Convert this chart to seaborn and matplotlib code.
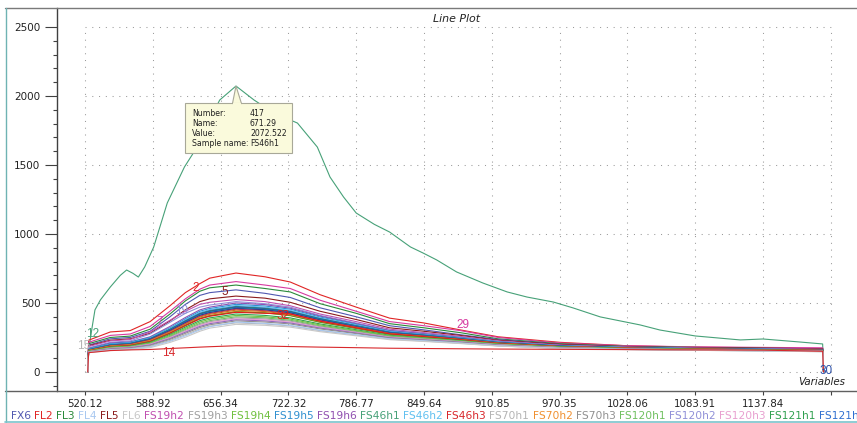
import matplotlib
matplotlib.use("Agg")
import numpy as np
import pandas as pd
import matplotlib.pyplot as plt
import seaborn as sns
from matplotlib import transforms
from matplotlib.patches import Polygon, Rectangle
from matplotlib.lines import Line2D

# ---------------- data ----------------
sample_names = ["FX6", "FL2", "FL3", "FL4", "FL5", "FL6", "FS19h2", "FS19h3", "FS19h4",
                "FS19h5", "FS19h6", "FS46h1", "FS46h2", "FS46h3", "FS70h1", "FS70h2",
                "FS70h3", "FS120h1", "FS120h2", "FS120h3", "FS121h1", "FS121h2",
                "FS121h3", "FS140h1", "FS140h2", "FS140h3", "FS168h1", "FS168h2",
                "FS168h3", "FS190h1", "FS190h2", "FS190h3"]
sample_colors = ["#5058b0", "#e02525", "#2a8a3a", "#a8c8f0", "#8b1c1c", "#c8c8c8",
                 "#c050b0", "#a0a0a0", "#70c040", "#3090d0", "#9050b0", "#47a178",
                 "#60c0f0", "#d8282c", "#b4b4b4", "#f09030", "#909090", "#70c060",
                 "#9090d8", "#e8a0d0", "#30a050", "#3070d0", "#1f3f8f", "#b03060",
                 "#17a2b8", "#9467bd", "#6b8e23", "#d2691e", "#d63aa0", "#2b4fa8",
                 "#2e8b57", "#e31a1c"]

tick_positions = [250, 325, 400, 475, 550, 625, 700, 775, 850, 925, 1000, 1075]
tick_labels = ["520.12", "588.92", "656.34", "722.32", "786.77", "849.64", "910.85",
               "970.35", "1028.06", "1083.91", "1137.84", ""]
y_major = [0, 500, 1000, 1500, 2000, 2500]

# variable numbers sampled for the bundle of spectra
bundle_n = [253, 254, 278, 300, 322, 344, 361, 377, 388, 417, 449, 477, 510, 550,
            587, 625, 665, 707, 775, 850, 925, 1000, 1066, 1067]
bundle_values = {
    2:  [0, 230, 290, 300, 365, 480, 575, 640, 680, 717, 690, 652, 560, 470, 390, 355, 305, 255, 215, 190, 180, 175, 170, 0],
    29: [0, 215, 265, 275, 330, 440, 530, 600, 630, 655, 630, 605, 520, 440, 365, 335, 300, 250, 210, 190, 182, 178, 175, 0],
    3:  [0, 205, 250, 260, 310, 420, 515, 585, 610, 630, 605, 580, 495, 425, 350, 320, 285, 240, 205, 185, 178, 172, 168, 0],
    1:  [0, 195, 240, 250, 295, 400, 490, 555, 575, 595, 570, 540, 465, 400, 335, 305, 270, 235, 200, 182, 175, 170, 165, 0],
    5:  [0, 190, 230, 240, 280, 370, 450, 510, 530, 550, 535, 505, 440, 380, 320, 295, 265, 230, 200, 182, 175, 172, 168, 0],
    7:  [0, 185, 225, 235, 290, 375, 440, 490, 505, 525, 510, 480, 420, 365, 310, 285, 258, 225, 195, 180, 173, 168, 165, 0],
    19: [0, 175, 215, 225, 275, 360, 425, 470, 485, 510, 495, 470, 410, 355, 302, 280, 252, 222, 193, 178, 170, 166, 162, 0],
    11: [0, 170, 210, 218, 255, 330, 395, 450, 470, 500, 488, 462, 405, 350, 300, 277, 250, 220, 192, 178, 171, 166, 162, 0],
    10: [0, 168, 205, 215, 250, 320, 385, 440, 460, 490, 478, 455, 398, 345, 296, 273, 248, 218, 190, 177, 170, 165, 160, 0],
    13: [0, 165, 200, 210, 245, 315, 378, 432, 452, 482, 470, 447, 392, 340, 292, 270, 245, 216, 189, 176, 169, 164, 160, 0],
    22: [0, 163, 198, 208, 242, 310, 372, 425, 445, 475, 463, 440, 387, 336, 289, 268, 243, 214, 188, 175, 168, 164, 160, 0],
    31: [0, 162, 196, 206, 240, 308, 368, 422, 442, 472, 460, 438, 385, 334, 287, 266, 242, 213, 187, 175, 168, 163, 159, 0],
    30: [0, 160, 195, 205, 238, 305, 365, 418, 438, 468, 456, 435, 382, 332, 286, 265, 241, 213, 187, 174, 168, 163, 158, 0],
    25: [0, 160, 194, 203, 236, 302, 360, 412, 432, 462, 452, 430, 379, 330, 284, 263, 240, 212, 186, 174, 167, 162, 158, 0],
    23: [0, 158, 192, 202, 235, 300, 358, 410, 430, 460, 450, 428, 377, 328, 283, 262, 239, 211, 186, 174, 167, 162, 158, 0],
    24: [0, 157, 190, 200, 232, 295, 352, 404, 424, 455, 444, 422, 372, 325, 280, 260, 237, 210, 185, 173, 167, 162, 157, 0],
    28: [0, 156, 188, 198, 228, 290, 346, 398, 418, 448, 438, 418, 368, 322, 278, 258, 236, 209, 184, 172, 166, 161, 156, 0],
    16: [0, 155, 186, 195, 225, 285, 340, 390, 410, 440, 430, 410, 362, 317, 274, 255, 233, 207, 183, 172, 166, 161, 156, 0],
    27: [0, 153, 184, 193, 222, 282, 338, 388, 407, 436, 428, 408, 360, 315, 273, 254, 232, 206, 182, 171, 165, 160, 155, 0],
    32: [0, 152, 183, 192, 220, 280, 335, 384, 404, 432, 425, 420, 368, 320, 276, 256, 234, 207, 183, 171, 165, 160, 155, 0],
    21: [0, 150, 180, 188, 215, 272, 325, 372, 392, 420, 410, 392, 348, 306, 266, 248, 228, 203, 181, 170, 164, 159, 154, 0],
    9:  [0, 150, 178, 185, 210, 265, 316, 362, 382, 410, 400, 383, 341, 300, 262, 245, 225, 201, 180, 169, 163, 158, 153, 0],
    18: [0, 148, 175, 182, 205, 258, 308, 352, 372, 400, 392, 375, 334, 295, 258, 241, 222, 199, 178, 168, 162, 157, 152, 0],
    8:  [0, 147, 172, 180, 202, 252, 300, 344, 364, 392, 384, 368, 328, 290, 254, 238, 220, 197, 177, 167, 161, 156, 151, 0],
    20: [0, 146, 170, 178, 200, 248, 295, 338, 358, 385, 378, 362, 323, 286, 251, 236, 218, 196, 176, 166, 160, 155, 150, 0],
    26: [0, 145, 168, 176, 196, 242, 288, 330, 350, 378, 370, 355, 318, 282, 248, 233, 216, 195, 175, 166, 160, 155, 150, 0],
    17: [0, 144, 165, 172, 192, 236, 280, 322, 342, 370, 362, 348, 312, 278, 245, 231, 214, 193, 174, 165, 159, 154, 149, 0],
    15: [0, 143, 162, 168, 186, 228, 270, 312, 332, 356, 348, 334, 300, 268, 238, 224, 208, 189, 171, 163, 157, 152, 147, 0],
    4:  [0, 142, 160, 166, 182, 222, 262, 305, 328, 362, 352, 338, 302, 270, 240, 226, 210, 190, 172, 163, 158, 153, 148, 0],
    6:  [0, 140, 156, 162, 176, 214, 252, 295, 318, 345, 338, 325, 292, 262, 234, 221, 206, 188, 170, 162, 157, 152, 147, 0],
    14: [0, 140, 155, 160, 163, 170, 175, 180, 183, 190, 188, 184, 180, 176, 172, 170, 168, 166, 164, 162, 160, 158, 150, 0],
}

# the outlying spectrum FS46h1 (sample 12)
fs46h1_n = [253, 254, 258, 261, 267, 278, 289, 296, 303, 309, 316, 326, 341, 360, 374,
            388, 399, 417, 437, 459, 485, 507, 521, 536, 550, 570, 587, 610, 624, 639,
            661, 690, 717, 739, 768, 790, 820, 842, 864, 886, 925, 975, 1000, 1041,
            1066, 1067]
fs46h1_values = [0, 160, 330, 450, 522, 616, 700, 739, 715, 688, 761, 906, 1225, 1486,
                 1630, 1830, 1971, 2072.5, 1971, 1877, 1804, 1630, 1413, 1268, 1152,
                 1070, 1014, 906, 862, 812, 725, 645, 580, 543, 507, 464, 399, 370, 341,
                 304, 261, 232, 239, 217, 203, 0]

# curve number labels: (text, sample number, variable, value)
curve_labels = [("15", 15, 248, 185), ("12", 12, 258, 275), ("2", 2, 372, 609),
                ("5", 5, 405, 580), ("19", 19, 357, 442), ("7", 7, 333, 362),
                ("32", 32, 469, 406), ("14", 14, 343, 138), ("29", 29, 668, 341),
                ("30", 30, 1070, 8)]

tooltip_fields = ["Number:", "Name:", "Value:", "Sample name:"]
tooltip_values = ["417", "671.29", "2072.522", "FS46h1"]

# ---------------- build long table ----------------
rows = []
for num, vals in bundle_values.items():
    for n, v in zip(bundle_n, vals):
        rows.append((sample_names[num - 1], n, v))
for n, v in zip(fs46h1_n, fs46h1_values):
    rows.append(("FS46h1", n, v))
df = pd.DataFrame(rows, columns=["sample", "n", "value"])

palette = {name: col for name, col in zip(sample_names, sample_colors)}
hue_order = ["FS46h1"] + [sample_names[k - 1] for k in bundle_values.keys()]

# ---------------- figure ----------------
sns.set_theme(style="white")
plt.rcParams["font.family"] = ["DejaVu Sans"]

W, H = 857, 423
fig = plt.figure(figsize=(W / 100, H / 100), dpi=100)
fig.patch.set_facecolor("white")
ax = fig.add_axes([57 / W, 32 / H, 800 / W, 383 / H])
ax.set_facecolor("white")

sns.lineplot(data=df, x="n", y="value", hue="sample", units="sample", estimator=None,
             sort=False, palette=palette, hue_order=hue_order, linewidth=0.8,
             legend=False, ax=ax)

ax.set_xlim(219, 1104)
ax.set_ylim(-138, 2638)

# grid restricted to the data box
grid_kw = dict(colors="#9a9a9a", linewidth=0.75, linestyles=[(0, (1, 5.5))], zorder=0)
ax.hlines(y_major, tick_positions[0], tick_positions[-1], **grid_kw)
ax.vlines(tick_positions, y_major[0], y_major[-1], **grid_kw)

ax.set_xticks(tick_positions)
ax.set_xticklabels(tick_labels)
ax.set_yticks(y_major)
ax.set_yticks(list(range(-100, 2501, 100)), minor=True)
ax.set_xlabel("")
ax.set_ylabel("")
ax.tick_params(axis="y", which="major", direction="out", length=8.6, width=0.8,
               color="#404040", pad=3.4, labelsize=7.5, labelcolor="#222222", left=True)
ax.tick_params(axis="y", which="minor", direction="out", length=3, width=0.8,
               color="#404040", left=True)
ax.tick_params(axis="x", which="major", direction="out", length=3, width=0.8,
               color="#404040", pad=2.6, labelsize=7.4, labelcolor="#222222", bottom=True)

for s in ["top", "right", "bottom"]:
    ax.spines[s].set_visible(False)
ax.spines["left"].set_color("#404040")
ax.spines["left"].set_linewidth(1.0)

ax.text(0.5, 1 - 11 / 383, "Line Plot", transform=ax.transAxes, ha="center",
        va="center", style="italic", fontsize=7.9, color="#222222")

# curve labels
for txt, num, n, v in curve_labels:
    ax.text(n, v, txt, color=sample_colors[num - 1], fontsize=8.5, ha="center",
            va="center", family=["Liberation Sans", "DejaVu Sans"], zorder=5)

# tooltip anchored at the maximum of FS46h1
i_max = int(np.argmax(fs46h1_values))
peak = (fs46h1_n[i_max], fs46h1_values[i_max])
tr = fig.dpi_scale_trans + transforms.ScaledTranslation(peak[0], peak[1], ax.transData)
box = Rectangle((-0.51, -0.67), 1.07, 0.50, transform=tr, facecolor="#fafadc",
                edgecolor="#a8a898", linewidth=0.8, zorder=10, clip_on=False)
ax.add_patch(box)
wedge = Polygon([(-0.035, -0.175), (0.0, 0.0), (0.055, -0.175)], closed=True,
                transform=tr, facecolor="#fafadc", edgecolor="#a8a898",
                linewidth=0.8, zorder=11, clip_on=False)
ax.add_patch(wedge)
cover = Rectangle((-0.03, -0.185), 0.08, 0.02, transform=tr, facecolor="#fafadc",
                  edgecolor="none", zorder=12, clip_on=False)
ax.add_patch(cover)
for i, (f, v) in enumerate(zip(tooltip_fields, tooltip_values)):
    yy = -0.27 - 0.10 * i
    ax.text(-0.44, yy, f, transform=tr, fontsize=5.6, va="center", ha="left",
            color="#202020", zorder=13)
    ax.text(0.14, yy, v, transform=tr, fontsize=5.6, va="center", ha="left",
            color="#202020", zorder=13)

# frame lines of the window
def fline(x0, y0, x1, y1, color, lw=1.0):
    fig.add_artist(Line2D([x0 / W, x1 / W], [1 - y0 / H, 1 - y1 / H], color=color,
                          linewidth=lw, transform=fig.transFigure))

fline(5, 8, W, 8, "#7a7a7a")
fline(5, 391, W, 391, "#606060")
fline(6, 8, 6, 422, "#6fb3b3")
fline(5, 421.5, W, 421.5, "#7cc4cc", 1.2)

fig.text(845 / W, 1 - 382 / H, "Variables", ha="right", va="center", style="italic",
         fontsize=7.4, color="#222222")

# legend strip of sample names (runs off the right edge, as in the original window)
renderer = fig.canvas.get_renderer()
x_px = 11.0
space_px = 0.318 * 7.7 * 100 / 72
for name, col in zip(sample_names, sample_colors):
    if x_px > W - 2:
        break
    t = fig.text(x_px / W, 1 - 416 / H, name, color=col, fontsize=7.7, ha="left",
                 va="center")
    bb = t.get_window_extent(renderer)
    x_px += bb.width + space_px

fig.savefig("out.png", dpi=100, facecolor="white")
